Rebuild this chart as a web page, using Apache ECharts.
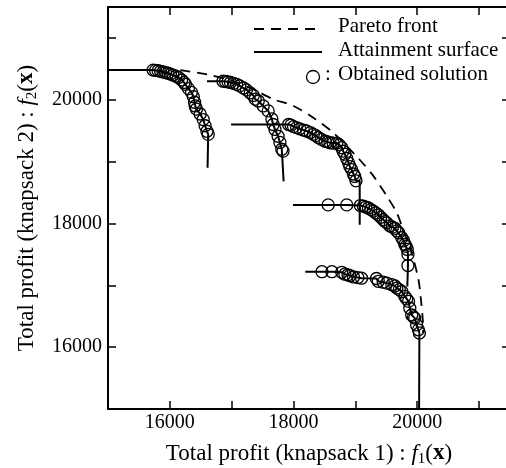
<!DOCTYPE html>
<html>
<head>
<meta charset="utf-8">
<script src="https://cdn.jsdelivr.net/npm/echarts@6/dist/echarts.min.js"></script>
<style>
  html, body { margin: 0; padding: 0; background: #fff; }
  #chart { width: 506px; height: 468px; }
</style>
</head>
<body>
<div id="chart"></div>
<script>
// Pareto front (dashed)
const paretoX = [16170, 16650, 17020, 17350, 17670, 18000, 18320, 18640, 18860, 19070, 19290, 19510, 19670, 19770, 19910, 20020, 20060, 20090, 20095];
const paretoY = [20480, 20400, 20300, 20170, 20010, 19900, 19710, 19470, 19250, 19030, 18770, 18440, 18170, 17900, 17520, 17090, 16770, 16440, 16230];

// obtained solutions, 5 runs
const g1x = [15730, 15770, 15810, 15850, 15890, 15930, 15970, 16010, 16050, 16100, 16140, 16190, 16230, 16250, 16300, 16350, 16380, 16400, 16410, 16430, 16490, 16540, 16570, 16600, 16620];
const g1y = [20480, 20475, 20470, 20460, 20450, 20440, 20430, 20415, 20400, 20380, 20360, 20320, 20280, 20250, 20180, 20120, 20050, 19960, 19900, 19850, 19770, 19680, 19580, 19490, 19440];
const g2x = [16860, 16900, 16940, 16980, 17030, 17080, 17130, 17190, 17240, 17300, 17350, 17380, 17430, 17510, 17590, 17650, 17670, 17700, 17750, 17780, 17810, 17830];
const g2y = [20300, 20295, 20290, 20280, 20265, 20250, 20225, 20190, 20160, 20110, 20070, 20010, 19980, 19900, 19820, 19690, 19600, 19520, 19410, 19310, 19200, 19170];
const g3x = [17920, 17960, 18000, 18050, 18100, 18160, 18210, 18270, 18320, 18360, 18400, 18450, 18510, 18550, 18590, 18640, 18700, 18740, 18780, 18800, 18830, 18860, 18890, 18910, 18940, 18970, 18990, 19010];
const g3y = [19600, 19590, 19565, 19550, 19530, 19510, 19495, 19470, 19440, 19420, 19390, 19360, 19330, 19320, 19305, 19300, 19300, 19270, 19225, 19170, 19120, 19050, 18980, 18920, 18870, 18800, 18760, 18690];
const g4x = [18560, 18860, 19080, 19130, 19170, 19210, 19250, 19290, 19330, 19370, 19410, 19450, 19480, 19510, 19560, 19600, 19640, 19670, 19700, 19750, 19780, 19800, 19820, 19840, 19850, 19850];
const g4y = [18300, 18300, 18290, 18280, 18265, 18250, 18225, 18200, 18170, 18140, 18100, 18060, 18030, 18010, 17960, 17940, 17920, 17880, 17850, 17770, 17720, 17660, 17630, 17580, 17500, 17320];
const g5x = [18460, 18620, 18780, 18830, 18880, 18910, 18970, 19040, 19100, 19340, 19370, 19450, 19510, 19590, 19640, 19670, 19710, 19750, 19800, 19830, 19860, 19880, 19910, 19940, 19960, 19990, 20020, 20035];
const g5y = [17220, 17220, 17210, 17180, 17170, 17155, 17135, 17125, 17115, 17110, 17065, 17050, 17035, 17010, 16990, 16955, 16930, 16900, 16820, 16780, 16740, 16630, 16520, 16490, 16470, 16360, 16280, 16230];

// attainment surface ends: start of horizontal part, x and bottom of vertical part
const leadX = [15000, 16600, 16990, 17990, 18190];
const tailX = [16610, 17840, 19070, 19840, 20030];
const tailY = [18900, 18680, 17980, 16980, 15000];

const xTicks = [16000, 18000, 20000];
const yTicks = [16000, 18000, 20000];

const groupsX = [g1x, g2x, g3x, g4x, g5x];
const groupsY = [g1y, g2y, g3y, g4y, g5y];

function pairs(xs, ys) {
  return xs.map((x, i) => [x, ys[i]]);
}

const FONT = "Liberation Serif";
const nameRich = {
  i: { fontFamily: FONT, fontSize: 23, fontStyle: "italic", color: "#000", lineHeight: 27 },
  s: { fontFamily: FONT, fontSize: 15, color: "#000", lineHeight: 15, verticalAlign: "bottom" },
  b: { fontFamily: FONT, fontSize: 23, fontWeight: "bold", color: "#000", lineHeight: 27 },
};

function axisBase(pos) {
  return {
    type: "value",
    position: pos,
    min: 15000,
    max: 21500,
    interval: 1000,
    axisLine: { show: true, onZero: false, lineStyle: { color: "#000", width: 2 } },
    axisTick: { show: true, inside: true, length: 8, lineStyle: { color: "#000", width: 1.5 } },
    splitLine: { show: false },
  };
}

function labelStyle(ticks, margin) {
  return {
    show: true,
    margin: margin,
    color: "#000",
    fontSize: 20,
    fontFamily: FONT,
    formatter: (v) => (ticks.indexOf(v) >= 0 ? String(v) : ""),
  };
}

const series = [
  {
    type: "line",
    data: pairs(paretoX, paretoY),
    symbol: "none",
    smooth: 0.3,
    lineStyle: { color: "#000", width: 1.8, type: [10, 7] },
    z: 2,
  },
];

groupsX.forEach((xs, k) => {
  const ys = groupsY[k];
  const last = ys.length - 1;
  series.push({
    type: "line",
    data: [[leadX[k], ys[0]]].concat(pairs(xs, ys), [[tailX[k], ys[last]], [tailX[k], tailY[k]]]),
    symbol: "none",
    lineStyle: { color: "#000", width: 2 },
    z: 3,
  });
  series.push({
    type: "scatter",
    data: pairs(xs, ys),
    symbol: "circle",
    symbolSize: 12,
    itemStyle: { color: "rgba(0,0,0,0)", borderColor: "#000", borderWidth: 1.3, opacity: 1 },
    z: 4,
  });
});

const chart = echarts.init(document.getElementById("chart"));
const option = {
  animation: false,
  backgroundColor: "#fff",
  grid: { left: 108, top: 7, right: -4, bottom: 59, containLabel: false, outerBoundsMode: "none" },
  xAxis: [
    Object.assign(axisBase("bottom"), {
      axisLabel: labelStyle(xTicks, 4),
      name: "Total profit (knapsack 1) : {i|f}{s|1}({b|x})",
      nameLocation: "middle",
      nameGap: 31,
      nameTextStyle: { fontFamily: FONT, fontSize: 23, color: "#000", lineHeight: 27, rich: nameRich },
    }),
    Object.assign(axisBase("top"), { axisLabel: { show: false } }),
  ],
  yAxis: [
    Object.assign(axisBase("left"), {
      axisLabel: labelStyle(yTicks, 6),
      name: "Total profit (knapsack 2) : {i|f}{s|2}({b|x})",
      nameLocation: "middle",
      nameGap: 68,
      nameTextStyle: { fontFamily: FONT, fontSize: 23, color: "#000", lineHeight: 27, rich: nameRich },
    }),
    Object.assign(axisBase("right"), { axisLabel: { show: false } }),
  ],
  graphic: [
    { type: "line", shape: { x1: 254, y1: 29, x2: 318, y2: 29 }, style: { stroke: "#000", lineWidth: 1.8, lineDash: [10, 7] } },
    { type: "text", left: 338, top: 16, style: { text: "Pareto front", font: "21px " + FONT, fill: "#000" } },
    { type: "line", shape: { x1: 254, y1: 52, x2: 322, y2: 52 }, style: { stroke: "#000", lineWidth: 2 } },
    { type: "text", left: 338, top: 40, style: { text: "Attainment surface", font: "21px " + FONT, fill: "#000" } },
    { type: "circle", shape: { cx: 313, cy: 77, r: 6.5 }, style: { fill: "none", stroke: "#000", lineWidth: 1.3 } },
    { type: "text", left: 325, top: 64, style: { text: ":", font: "21px " + FONT, fill: "#000" } },
    { type: "text", left: 338, top: 64, style: { text: "Obtained solution", font: "21px " + FONT, fill: "#000" } },
  ],
  series: series,
};
chart.setOption(option);
</script>
</body>
</html>
